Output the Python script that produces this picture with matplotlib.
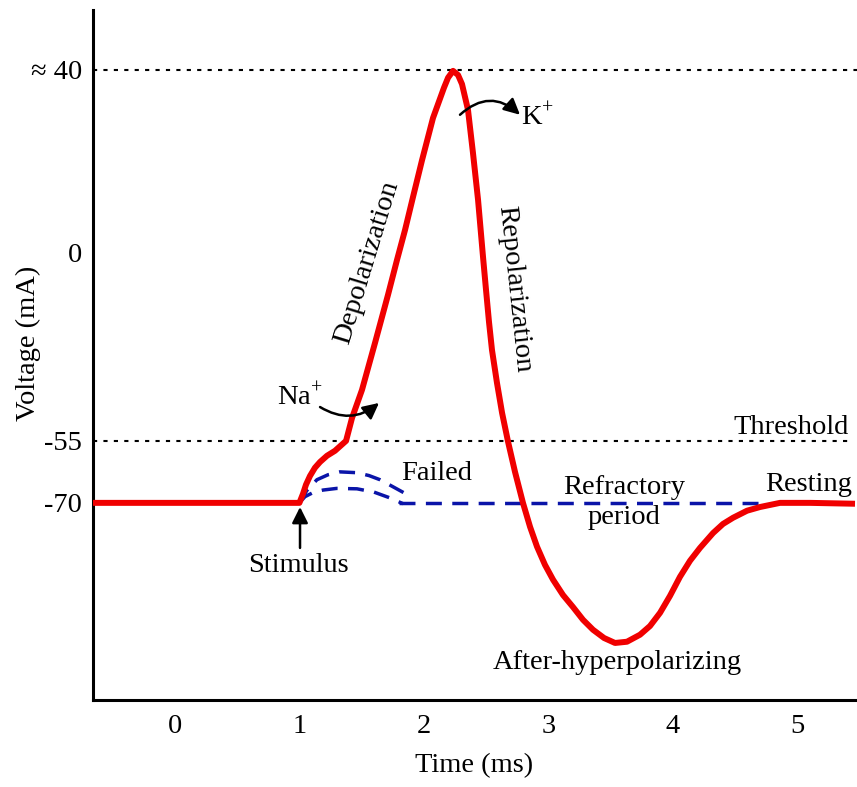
import numpy as np
import matplotlib
matplotlib.use("Agg")
import matplotlib.pyplot as plt

plt.rcParams['font.family'] = ['Liberation Serif', 'DejaVu Serif']
plt.rcParams['mathtext.fontset'] = 'custom'
plt.rcParams['mathtext.rm'] = 'Liberation Serif'

# ---------------- Daten ------------------------------------------------------
# Aktionspotential (rot): Zeit in ms, Spannung in mV
t_ap = [-0.66, 1.0, 1.029, 1.053, 1.085, 1.125, 1.166, 1.222, 1.286, 1.375,
        1.423, 1.503, 1.608, 1.712, 1.785, 1.849, 1.913, 1.986, 2.074, 2.162,
        2.195, 2.235, 2.275, 2.307, 2.355, 2.395, 2.436, 2.476, 2.500, 2.524,
        2.548, 2.588, 2.629, 2.677, 2.733, 2.797, 2.854, 2.910, 2.974, 3.039,
        3.119, 3.199, 3.280, 3.360, 3.449, 3.537, 3.633, 3.738, 3.818, 3.899,
        3.979, 4.059, 4.140, 4.220, 4.325, 4.405, 4.486, 4.598, 4.703, 4.863,
        5.105, 5.442]
v_ap = [-70, -70, -67.8, -65.6, -63.5, -61.5, -60.1, -58.6, -57.4, -55.0,
        -48.3, -40.1, -26.3, -12.3, -2.0, 5.0, 12.2, 20.3, 29.5, 36.1,
        38.3, 39.8, 38.9, 36.9, 31.3, 21.9, 11.6, -1.2, -10.8, -20.2,
        -28.4, -38.0, -46.8, -55.2, -62.5, -70.0, -75.8, -80.6, -85.0, -88.6,
        -92.3, -95.2, -98.3, -100.7, -102.7, -103.9, -103.6, -101.9, -99.8, -96.6,
        -92.5, -87.9, -84.0, -80.9, -77.3, -75.1, -73.6, -71.9, -71.0, -70.0,
        -70.0, -70.2]

# Fehlgeschlagene Reize (blau gestrichelt)
t_fail_hi = [1.0, 1.06, 1.141, 1.23, 1.326, 1.463, 1.56, 1.648, 1.752, 1.873, 1.889]
v_fail_hi = [-70, -67.0, -64.4, -63.2, -62.5, -62.7, -63.4, -64.4, -66.1, -68.1, -68.5]
t_fail_lo = [1.0, 1.045, 1.11, 1.19, 1.30, 1.463, 1.60, 1.728, 1.833]
v_fail_lo = [-70, -68.5, -67.5, -66.9, -66.5, -66.6, -67.4, -68.8, -70.2]
t_rest = [1.8, 4.7]
v_rest = [-70, -70]

x_ticks = [0, 1, 2, 3, 4, 5]
y_ticks = [40, 0, -55, -70]
y_ticklabels = ["≈ 40", "0", "-55", "-70"]

# Schematische (stückweise lineare) y-Skala
v_anchor = [-1000, -70, -55, 0, 40, 1000]
p_anchor = [197 - 930 * 62 / 15, 197, 259, 447, 630, 630 + 960 * 183 / 40]
fwd = lambda v: np.interp(v, v_anchor, p_anchor)
inv = lambda p: np.interp(p, p_anchor, v_anchor)

# ---------------- Plot -------------------------------------------------------
fs = 20.5
fig = plt.figure(figsize=(8.57, 7.87), dpi=100)
ax = fig.add_axes([93 / 857, 87 / 787, 764 / 857, 690 / 787])
ax.set_yscale('function', functions=(fwd, inv))
ax.set_xlim(-0.659, 5.482)
ax.set_ylim(-117.7, 53.1)

ax.axhline(40, color='black', lw=1.5, ls=(0, (2, 3)), zorder=1)
ax.axhline(-55, xmax=0.991, color='black', lw=1.5, ls=(0, (2, 3)), zorder=1)

blue = '#0a14a8'
dash = (0, (4.6, 3))
ax.plot(t_fail_hi, v_fail_hi, color=blue, lw=2.5, ls=dash, zorder=2)
ax.plot(t_fail_lo, v_fail_lo, color=blue, lw=2.5, ls=dash, zorder=2)
ax.plot(t_rest, v_rest, color=blue, lw=2.5, ls=dash, zorder=2)
ax.plot(t_ap, v_ap, color='#f00000', lw=4.3, solid_joinstyle='round', zorder=3)

# Achsen
for s in ['top', 'right']:
    ax.spines[s].set_visible(False)
for s in ['left', 'bottom']:
    ax.spines[s].set_linewidth(2.2)
ax.set_xticks(x_ticks)
ax.set_yticks(y_ticks)
ax.set_yticklabels(y_ticklabels)
ax.yaxis.set_minor_locator(matplotlib.ticker.NullLocator())
ax.tick_params(axis='both', length=0, labelsize=fs)
ax.tick_params(axis='x', pad=10)
ax.tick_params(axis='y', pad=8)
ax.set_xlabel("Time (ms)", fontsize=fs, va='center')
ax.xaxis.set_label_coords(0.4987, -0.0957)
ax.set_ylabel("Voltage (mA)", fontsize=fs, va='center')
ax.yaxis.set_label_coords(-0.085, 0.517)

# Beschriftungen
ax.text(4.952, -51.2, "Threshold", fontsize=fs, ha='center', va='center')
ax.text(2.106, -63.0, "Failed", fontsize=fs, ha='center', va='center')
ax.text(3.609, -70.0, "Refractory\nperiod", fontsize=fs, ha='center', va='center',
        linespacing=1.25)
ax.text(5.096, -65.6, "Resting", fontsize=fs, ha='center', va='center')
ax.text(0.989, -85.2, "Stimulus", fontsize=fs, ha='center', va='center')
ax.text(3.553, -108.7, "After-hyperpolarizing", fontsize=fs, ha='center', va='center')
ax.text(1.543, -2.9, "Depolarization", fontsize=fs, ha='center', va='center',
        rotation=73, rotation_mode='anchor')
ax.text(2.725, -10.5, "Repolarization", fontsize=fs, ha='center', va='center',
        rotation=-84, rotation_mode='anchor')
ax.text(1.005, -42.1, "Na$^{+}$", fontsize=fs, ha='center', va='center')
ax.text(2.918, 29.7, "K$^{+}$", fontsize=fs, ha='center', va='center')

# Pfeile
arrow = dict(arrowstyle='-|>', color='black', lw=1.8, mutation_scale=24,
             shrinkA=0, shrinkB=0)
ax.annotate("", xy=(1.005, -71.0), xytext=(1.005, -80.9),
            arrowprops=dict(arrow, connectionstyle='arc3,rad=0'))
ax.annotate("", xy=(1.640, -43.9), xytext=(1.166, -45.1),
            arrowprops=dict(arrow, connectionstyle='arc3,rad=0.35'))
ax.annotate("", xy=(2.773, 30.2), xytext=(2.291, 30.2),
            arrowprops=dict(arrow, connectionstyle='arc3,rad=-0.45'))

fig.savefig("out.png", dpi=100)
